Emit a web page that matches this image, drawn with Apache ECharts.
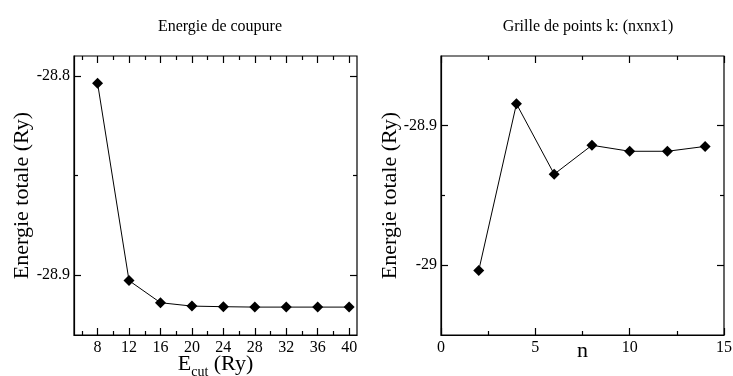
<!DOCTYPE html>
<html><head><meta charset="utf-8">
<script src="https://cdn.jsdelivr.net/npm/echarts@6/dist/echarts.min.js"></script>
<style>html,body{margin:0;padding:0;background:#fff}#c{width:733px;height:376px}</style>
</head><body><div id="c"></div>
<script>
// Left panel: cutoff energy
const ecut = [8, 12, 16, 20, 24, 28, 32, 36, 40];
const energyEcut = [-28.8037, -28.9027, -28.9138, -28.9155, -28.9158, -28.9160, -28.9160, -28.9160, -28.9160];
const ecutMajorTicks = [8, 12, 16, 20, 24, 28, 32, 36, 40];
const ecutMinorTicks = [6, 10, 14, 18, 22, 26, 30, 34, 38];
const leftYMajor = [-28.8, -28.9];
const leftYMinor = [-28.85];
// Right panel: k-point grid
const nGrid = [2, 4, 6, 8, 10, 12, 14];
const energyK = [-29.0038, -28.8843, -28.9347, -28.9140, -28.9183, -28.9183, -28.9148];
const rightYMajor = [-28.9, -29];
const rightYMinor = [-28.95];

const FONT = '"Liberation Serif", "DejaVu Serif", serif';
const chart = echarts.init(document.getElementById('c'), null, {renderer: 'canvas'});

const lblStyle = {color: '#000', fontFamily: FONT, fontSize: 16};
const tickLine = {color: '#000', width: 1.2};

function tickAxis(kind, grid, min, max, pos, len, values, extra) {
  return Object.assign({type: 'value', gridIndex: grid, min: min, max: max, position: pos,
    axisLine: {show: false}, axisLabel: {show: false}, splitLine: {show: false},
    axisTick: {show: true, inside: true, length: len, customValues: values, lineStyle: tickLine}}, extra || {});
}

const opt = {
  animation: false,
  backgroundColor: '#fff',
  textStyle: {fontFamily: FONT, color: '#000'},
  title: [
    {text: 'Energie de coupure', left: 215, top: 14, textAlign: 'center',
     textStyle: {fontFamily: FONT, fontSize: 16, fontWeight: 'normal', color: '#000'}},
    {text: 'Grille de points k: (nxnx1)', left: 583, top: 14, textAlign: 'center',
     textStyle: {fontFamily: FONT, fontSize: 16, fontWeight: 'normal', color: '#000'}}
  ],
  grid: [
    {left: 74, right: 376, top: 56, bottom: 41, outerBoundsMode: 'none', containLabel: false,
     show: true, borderColor: '#000', borderWidth: 1.2, backgroundColor: 'transparent'},
    {left: 441, right: 9, top: 56, bottom: 41, outerBoundsMode: 'none', containLabel: false,
     show: true, borderColor: '#000', borderWidth: 1.2, backgroundColor: 'transparent'}
  ],
  xAxis: [
    {type: 'value', gridIndex: 0, min: 5, max: 41, position: 'bottom',
     axisLine: {show: true, lineStyle: {color: '#000', width: 1.2}},
     axisTick: {show: true, inside: true, length: 7, customValues: ecutMajorTicks, lineStyle: tickLine},
     axisLabel: {show: true, customValues: ecutMajorTicks, margin: 5, ...lblStyle},
     splitLine: {show: false},
     name: '{e|E}{s|cut}{e| (Ry)}', nameLocation: 'middle', nameGap: 14, nameMoveOverlap: false,
     nameTextStyle: {rich: {e: {fontFamily: FONT, fontSize: 22, color: '#000'},
                            s: {fontFamily: FONT, fontSize: 14, color: '#000', padding: [16, 0, 0, 0]}}}},
    tickAxis('x', 0, 5, 41, 'bottom', 4, ecutMinorTicks),
    tickAxis('x', 0, 5, 41, 'top', 7, ecutMajorTicks),
    tickAxis('x', 0, 5, 41, 'top', 4, ecutMinorTicks),
    {type: 'value', gridIndex: 1, min: 0, max: 15, interval: 5, position: 'bottom',
     axisLine: {show: true, lineStyle: {color: '#000', width: 1.2}},
     axisTick: {show: true, inside: true, length: 7, lineStyle: tickLine},
     minorTick: {show: true, splitNumber: 2, length: 4, lineStyle: tickLine},
     axisLabel: {show: true, margin: 5, ...lblStyle},
     splitLine: {show: false},
     name: 'n', nameLocation: 'middle', nameGap: 5, nameMoveOverlap: false,
     nameTextStyle: {fontFamily: FONT, fontSize: 22, color: '#000'}},
    {type: 'value', gridIndex: 1, min: 0, max: 15, interval: 5, position: 'top',
     axisLine: {show: false}, axisLabel: {show: false}, splitLine: {show: false},
     axisTick: {show: true, inside: true, length: 7, lineStyle: tickLine},
     minorTick: {show: true, splitNumber: 2, length: 4, lineStyle: tickLine}}
  ],
  yAxis: [
    {type: 'value', gridIndex: 0, min: -28.93, max: -28.79, position: 'left',
     axisLine: {show: true, lineStyle: {color: '#000', width: 1.2}},
     axisTick: {show: true, inside: true, length: 7, customValues: leftYMajor, lineStyle: tickLine},
     axisLabel: {show: true, customValues: leftYMajor, margin: 4, ...lblStyle},
     splitLine: {show: false},
     name: 'Energie totale (Ry)', nameLocation: 'middle', nameGap: 41, nameMoveOverlap: false,
     nameTextStyle: {fontFamily: FONT, fontSize: 22, color: '#000'}},
    tickAxis('y', 0, -28.93, -28.79, 'left', 4, leftYMinor),
    tickAxis('y', 0, -28.93, -28.79, 'right', 7, leftYMajor),
    tickAxis('y', 0, -28.93, -28.79, 'right', 4, leftYMinor),
    {type: 'value', gridIndex: 1, min: -29.05, max: -28.85, position: 'left',
     axisLine: {show: true, lineStyle: {color: '#000', width: 1.2}},
     axisTick: {show: true, inside: true, length: 7, customValues: rightYMajor, lineStyle: tickLine},
     axisLabel: {show: true, customValues: rightYMajor, margin: 4, ...lblStyle},
     splitLine: {show: false},
     name: 'Energie totale (Ry)', nameLocation: 'middle', nameGap: 40, nameMoveOverlap: false,
     nameTextStyle: {fontFamily: FONT, fontSize: 22, color: '#000'}},
    tickAxis('y', 1, -29.05, -28.85, 'left', 4, rightYMinor),
    tickAxis('y', 1, -29.05, -28.85, 'right', 7, rightYMajor),
    tickAxis('y', 1, -29.05, -28.85, 'right', 4, rightYMinor)
  ],
  series: [
    {type: 'line', xAxisIndex: 0, yAxisIndex: 0,
     data: ecut.map((x, i) => [x, energyEcut[i]]),
     symbol: 'diamond', symbolSize: 11, itemStyle: {color: '#000'},
     lineStyle: {color: '#000', width: 1}},
    {type: 'line', xAxisIndex: 4, yAxisIndex: 4,
     data: nGrid.map((x, i) => [x, energyK[i]]),
     symbol: 'diamond', symbolSize: 11, itemStyle: {color: '#000'},
     lineStyle: {color: '#000', width: 1}}
  ]
};
chart.setOption(opt);
</script></body></html>
